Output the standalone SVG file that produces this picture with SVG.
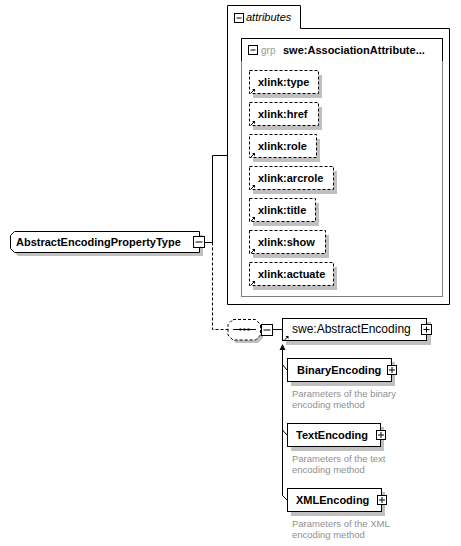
<svg xmlns="http://www.w3.org/2000/svg" width="461" height="546" viewBox="0 0 461 546">
<style>
text{font-family:"Liberation Sans",Arial,sans-serif;}
.b{font-size:11px;font-weight:bold;fill:#000;}
.r{font-size:12px;fill:#000;}
.d{font-size:9.5px;fill:#909090;}
.box{fill:#fff;stroke:#000;stroke-width:1;}
.att{fill:#fff;stroke:#000;stroke-width:1;stroke-dasharray:3 2;}
.sh{fill:#c0c0c0;}
.btn{fill:#fff;stroke:#000;stroke-width:1;}
.ln{fill:none;stroke:#000;stroke-width:1;}
.dl{fill:none;stroke:#000;stroke-width:1;stroke-dasharray:3 2;}
</style>
<defs>
<g id="lnk"><path d="M1.5,5.5 L4.5,2.5" class="ln"/><polygon points="2.5,1.5 5.5,1.5 5.5,4.5" fill="#000"/></g>
</defs>
<g id="connectors">
<path class="ln" d="M205,242.5 H212.5 V155.5 H227.5"/>
<path class="dl" d="M212.5,242.5 V329.5 H228"/>
<path class="ln" d="M273,329.5 H282.5"/>
<path class="ln" d="M282.5,349 V495.5 L287,500 M282.5,364.5 L287,370 M282.5,430 L287,435"/>
<polygon points="282.5,344 279.5,350 285.5,350" fill="#000"/>
</g>
<g id="attributes">
<path class="ln" d="M227.5,304.5 V5.5 H300.5 V28.5 H449.5 V304.5 Z"/>
<rect class="btn" x="234.5" y="13.5" width="9" height="9"/>
<path class="ln" d="M236.5,18 H241.5"/>
<text x="246" y="21" style="font-size:11px;font-style:italic;">attributes</text>
</g>
<g id="grp">
<rect x="241.5" y="38.5" width="201" height="258" fill="#fff" stroke="#808080"/>
<path class="ln" d="M241.5,61 V38.5 H442.5 V61"/>
<rect class="btn" x="248.5" y="45.5" width="9" height="9"/>
<path class="ln" d="M250.5,50 H255.5"/>
<text x="261" y="54" style="font-size:10px;fill:#999;">grp</text>
<text class="b" x="283" y="54">swe:AssociationAttribute...</text>
</g>
<g id="xlink-type"><rect class="sh" x="253" y="75" width="69" height="23"/><rect class="att" x="249.5" y="70.5" width="69" height="23"/><use href="#lnk" x="249.5" y="87.5"/><text class="b" x="258" y="86">xlink:type</text></g>
<g id="xlink-href"><rect class="sh" x="253" y="107" width="69" height="23"/><rect class="att" x="249.5" y="102.5" width="69" height="23"/><use href="#lnk" x="249.5" y="119.5"/><text class="b" x="258" y="118">xlink:href</text></g>
<g id="xlink-role"><rect class="sh" x="253" y="139" width="67" height="23"/><rect class="att" x="249.5" y="134.5" width="67" height="23"/><use href="#lnk" x="249.5" y="151.5"/><text class="b" x="258" y="150">xlink:role</text></g>
<g id="xlink-arcrole"><rect class="sh" x="253" y="171" width="84" height="23"/><rect class="att" x="249.5" y="166.5" width="84" height="23"/><use href="#lnk" x="249.5" y="183.5"/><text class="b" x="258" y="182">xlink:arcrole</text></g>
<g id="xlink-title"><rect class="sh" x="253" y="203" width="66" height="23"/><rect class="att" x="249.5" y="198.5" width="66" height="23"/><use href="#lnk" x="249.5" y="215.5"/><text class="b" x="258" y="214">xlink:title</text></g>
<g id="xlink-show"><rect class="sh" x="253" y="235" width="76" height="23"/><rect class="att" x="249.5" y="230.5" width="76" height="23"/><use href="#lnk" x="249.5" y="247.5"/><text class="b" x="258" y="246">xlink:show</text></g>
<g id="xlink-actuate"><rect class="sh" x="253" y="267" width="84" height="23"/><rect class="att" x="249.5" y="262.5" width="84" height="23"/><use href="#lnk" x="249.5" y="279.5"/><text class="b" x="258" y="278">xlink:actuate</text></g>
<g id="AbstractEncodingPropertyType">
<polygon class="sh" points="18,235 203,235 203,256 18,256 14,252 14,239"/>
<polygon class="box" points="14.5,231.5 199.5,231.5 199.5,252.5 14.5,252.5 10.5,248.5 10.5,235.5"/>
<text class="b" x="16" y="246">AbstractEncodingPropertyType</text>
<rect class="btn" x="193.5" y="236.5" width="11" height="11"/>
<path class="ln" d="M195.5,242 H202.5"/>
</g>
<g id="sequence">
<polygon class="sh" points="236,322 258,322 263,327 263,338 258,343 236,343 231,338 231,327"/>
<polygon class="att" points="233,319.5 255.5,319.5 260.5,324.5 260.5,335 255.5,340 233,340 228,335 228,324.5"/>
<path class="ln" d="M233,329.5 H256"/>
<rect x="239.5" y="328.5" width="2" height="2" fill="#000"/>
<rect x="243.5" y="328.5" width="2" height="2" fill="#000"/>
<rect x="247.5" y="328.5" width="2" height="2" fill="#000"/>
<rect class="btn" x="261.5" y="324.5" width="11" height="11"/>
<path class="ln" d="M263.5,330 H270.5"/>
</g>
<g id="AbstractEncoding">
<rect class="sh" x="286" y="322" width="145" height="23"/>
<rect class="box" x="282.5" y="318.5" width="144" height="22"/>
<use href="#lnk" x="283" y="334.5"/>
<text class="r" x="292" y="333">swe:AbstractEncoding</text>
<rect class="btn" x="421.5" y="324.5" width="10" height="10"/>
<path class="ln" d="M423.5,329.5 H429.5 M426.5,326.5 V332.5"/>
</g>
<g id="BinaryEncoding">
<rect class="sh" x="291" y="362" width="104" height="24"/>
<rect class="box" x="287.5" y="358.5" width="104" height="23"/>
<text class="b" x="297" y="374">BinaryEncoding</text>
<rect class="btn" x="387.5" y="365.5" width="9" height="9"/>
<path class="ln" d="M389,370 H395 M392,367 V373"/>
<text class="d" x="292" y="397">Parameters of the binary</text>
<text class="d" x="292" y="408">encoding method</text>
</g>
<g id="TextEncoding">
<rect class="sh" x="291" y="427" width="93" height="24"/>
<rect class="box" x="287.5" y="423.5" width="93" height="23"/>
<text class="b" x="296" y="439">TextEncoding</text>
<rect class="btn" x="376.5" y="430.5" width="9" height="9"/>
<path class="ln" d="M378,435 H384 M381,432 V438"/>
<text class="d" x="292" y="462">Parameters of the text</text>
<text class="d" x="292" y="473">encoding method</text>
</g>
<g id="XMLEncoding">
<rect class="sh" x="291" y="492" width="94" height="24"/>
<rect class="box" x="287.5" y="488.5" width="94" height="23"/>
<text class="b" x="296" y="504">XMLEncoding</text>
<rect class="btn" x="377.5" y="495.5" width="9" height="9"/>
<path class="ln" d="M379,500 H385 M382,497 V503"/>
<text class="d" x="292" y="527">Parameters of the XML</text>
<text class="d" x="292" y="538">encoding method</text>
</g>
</svg>
